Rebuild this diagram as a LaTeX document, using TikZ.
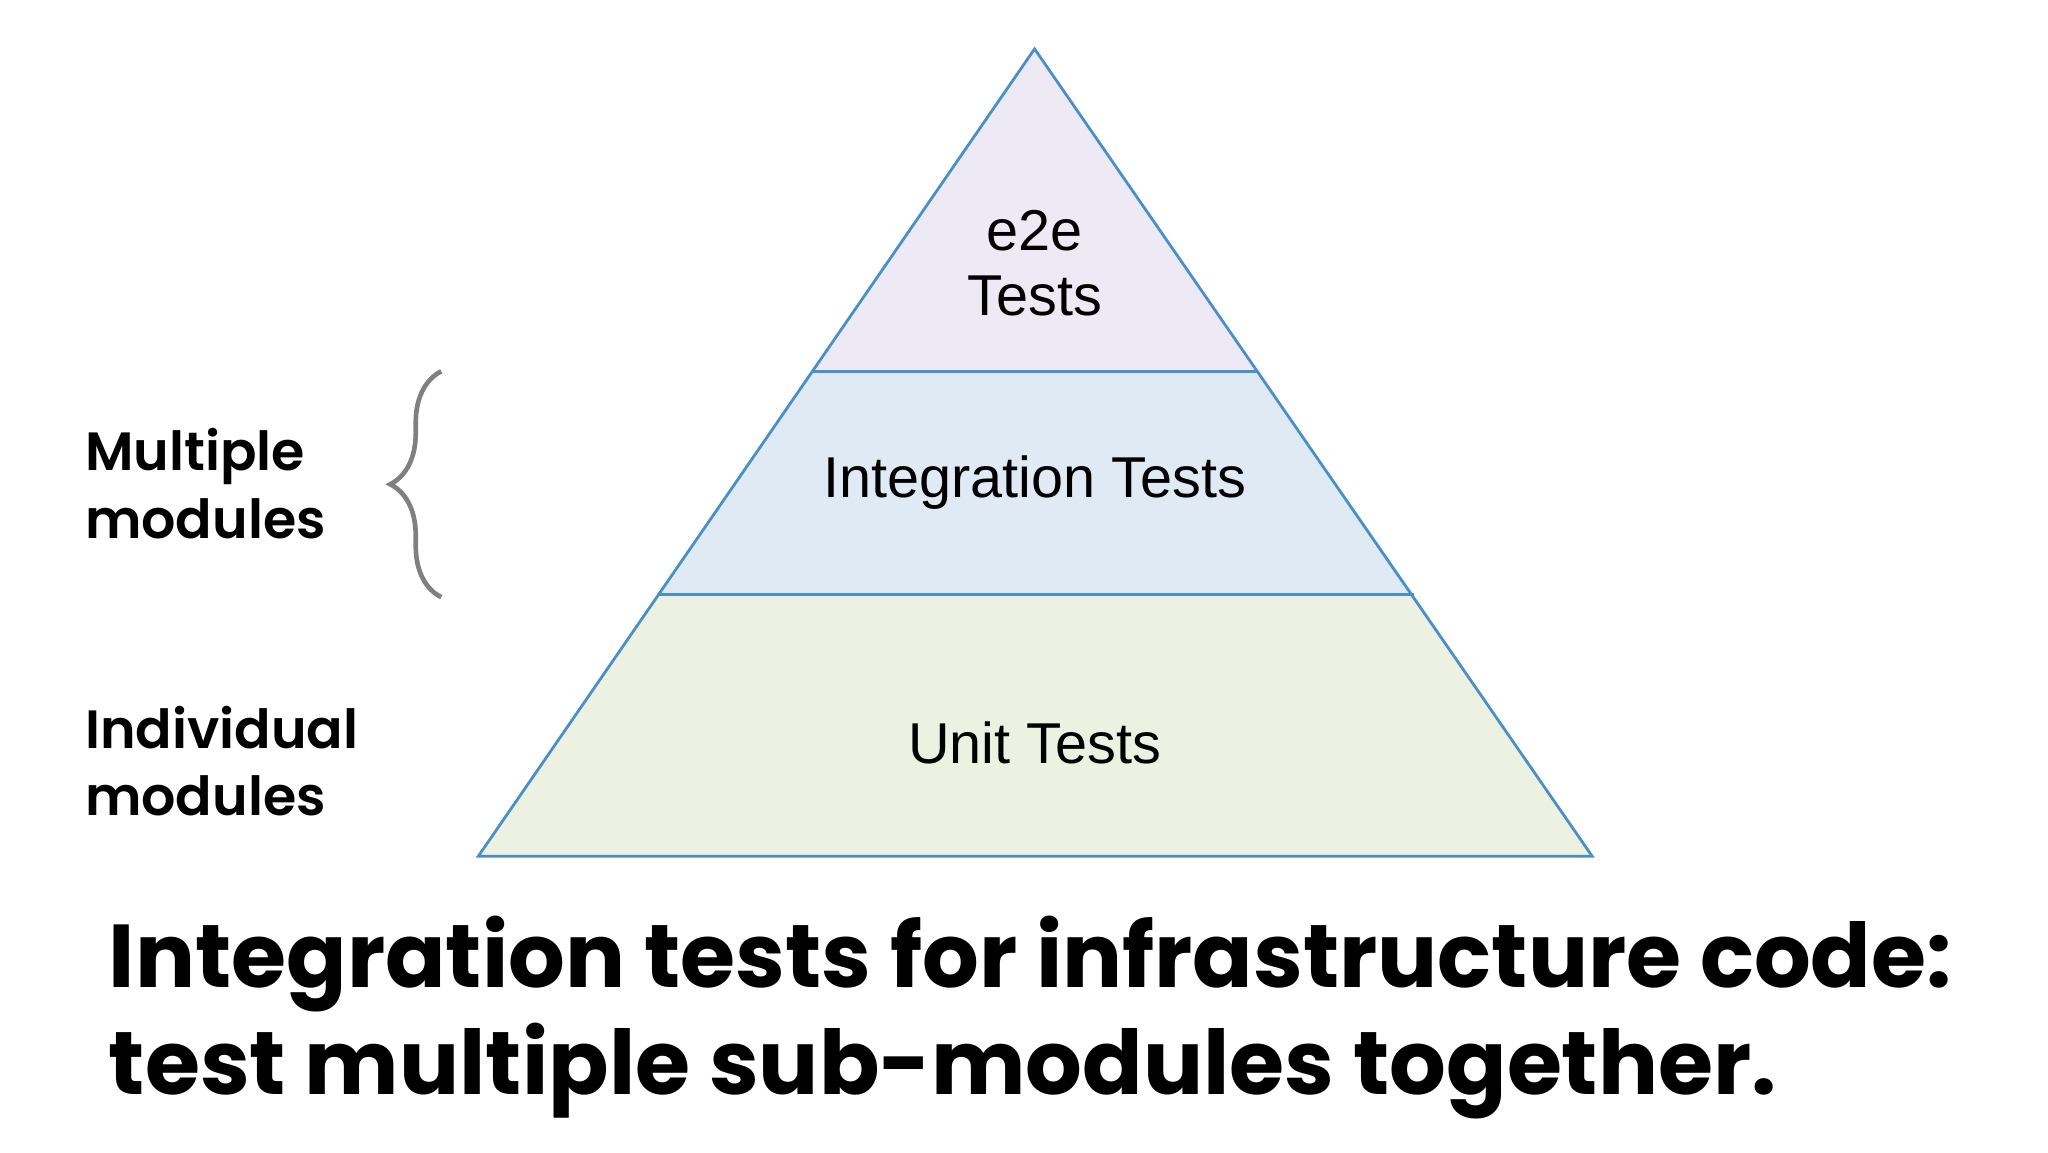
\documentclass[tikz,border=0pt]{standalone}
\usepackage{fontspec}
\setmainfont{Liberation Sans}
\newfontfamily\popfont{Poppins}[UprightFont=* SemiBold,BoldFont=* Bold]
\usetikzlibrary{decorations.pathreplacing}
\definecolor{edge}{HTML}{4A90C8}
\definecolor{topc}{HTML}{EDEAF6}
\definecolor{midc}{HTML}{DFEAF4}
\definecolor{botc}{HTML}{EDF1E1}
\tikzset{lvl/.style={font=\fontsize{12.4}{14}\selectfont,align=center},
side/.style={font=\popfont\fontsize{11.6}{14.5}\selectfont,align=left,anchor=west},
big/.style={font=\popfont\bfseries\fontsize{19.2}{23}\selectfont,align=left,anchor=west}}
\begin{document}
\begin{tikzpicture}[x=0.01cm,y=-0.01cm]
\useasboundingbox (0,0) rectangle (1550,872);
\coordinate (A) at (783,37);
\coordinate (L) at (362,648);
\coordinate (R) at (1205,648);
\fill[topc] (A) -- (615,281) -- (952,281) -- cycle;
\fill[midc] (615,281) -- (498,450) -- (1070,450) -- (952,281) -- cycle;
\fill[botc] (498,450) -- (L) -- (R) -- (1070,450) -- cycle;
\draw[edge,line width=0.6pt] (615,281) -- (952,281) (498,450) -- (1070,450);
\draw[edge,line width=0.6pt] (A) -- (L) -- (R) -- cycle;
\node[lvl] (e2e) at (783,199) {e2e\\Tests};
\node[lvl] (int) at (783,365) {Integration Tests};
\node[lvl] (unit) at (783,562) {Unit Tests};
\node[side] (mm) at (52,366) {Multiple\\modules};
\node[side] (im) at (52,576) {Individual\\modules};
\draw[gray,line width=1pt,decorate,decoration={brace,amplitude=11}] (334,452) -- (334,281);
\node[big] (t) at (70,770) {Integration tests for infrastructure code:\\test multiple sub-modules together.};
\end{tikzpicture}
\end{document}
